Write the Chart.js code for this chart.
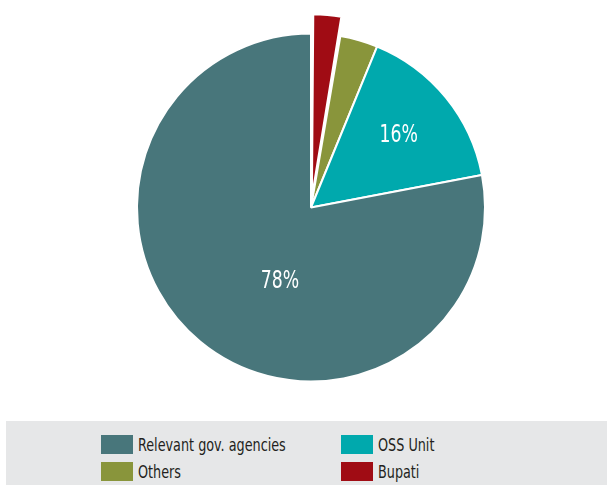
<!DOCTYPE html>
<html>
<head>
<meta charset="utf-8">
<script src="https://cdn.jsdelivr.net/npm/chart.js@4/dist/chart.umd.min.js"></script>
<style>
  html, body { margin: 0; padding: 0; background: #fff; }
  #wrap { position: relative; width: 607px; height: 485px; overflow: hidden; }
  #pie { position: absolute; left: 0; top: 0; }
  #legend {
    position: absolute; left: 6px; top: 421px; width: 601px; height: 64px;
    background: #e6e7e8;
    font-family: 'Liberation Sans Narrow', 'DejaVu Sans Condensed', sans-serif;
    font-size: 18px; color: #231f20;
  }
  .item { position: absolute; height: 19px; line-height: 19px; white-space: nowrap; }
  .item i { display: inline-block; width: 32px; height: 19px; vertical-align: top; margin-right: 5px; }
  .item span { display: inline-block; transform: scaleX(0.79); transform-origin: left center; }
</style>
</head>
<body>
<div id="wrap">
  <canvas id="pie" width="607" height="485"></canvas>
  <div id="legend"></div>
</div>
<script>
// ── Données (ordre de la légende) ─────────────────────────────────────────────
const LABELS = ['Relevant gov. agencies', 'OSS Unit', 'Others', 'Bupati'];
const VALUES = [78, 15.8, 3.5, 2.7];
const COLORS = ['#48767b', '#00a9ad', '#89953b', '#a00c14'];
const OFFSETS = [0, 0, 0, 42];          // Bupati détaché
// étiquettes % : [fraction de l'arc, fraction du rayon]
const PCT_POS = { 'Relevant gov. agencies': [0.44, 0.46], 'OSS Unit': [0.5, 0.65] };

// La tarte tourne dans le sens horaire depuis midi : on inverse l'ordre
const order = [3, 2, 1, 0];

const pctLabels = {
  id: 'pctLabels',
  afterDatasetsDraw(chart) {
    const ctx = chart.ctx;
    const meta = chart.getDatasetMeta(0);
    ctx.save();
    ctx.fillStyle = '#ffffff';
    ctx.font = "24px 'Liberation Sans Narrow', 'DejaVu Sans Condensed', sans-serif";
    ctx.textAlign = 'center';
    ctx.textBaseline = 'middle';
    meta.data.forEach((arc, i) => {
      const pos = PCT_POS[chart.data.labels[i]];
      if (!pos) return;
      const p = arc.getProps(['x', 'y', 'startAngle', 'endAngle', 'outerRadius'], true);
      const a = p.startAngle + (p.endAngle - p.startAngle) * pos[0];
      const r = p.outerRadius * pos[1];
      ctx.save();
      ctx.translate(p.x + r * Math.cos(a), p.y + r * Math.sin(a));
      ctx.scale(0.8, 1);
      ctx.fillText(Math.round(chart.data.datasets[0].data[i]) + '%', 0, 0);
      ctx.restore();
    });
    ctx.restore();
  }
};

new Chart(document.getElementById('pie'), {
  type: 'pie',
  data: {
    labels: order.map(i => LABELS[i]),
    datasets: [{
      data: order.map(i => VALUES[i]),
      backgroundColor: order.map(i => COLORS[i]),
      offset: order.map(i => OFFSETS[i]),
      borderColor: '#ffffff',
      borderWidth: 2,
      hoverOffset: 0,
    }],
  },
  options: {
    responsive: false,
    animation: false,
    radius: 174,
    layout: { padding: { left: 15, right: 0, top: 0, bottom: 70 } },
    plugins: { legend: { display: false }, tooltip: { enabled: false } },
  },
  plugins: [pctLabels],
});

// ── Légende sur deux colonnes ────────────────────────────────────────────────
const legend = document.getElementById('legend');
const colX = [95, 335], rowY = [14, 41];
LABELS.forEach((l, i) => {
  const el = document.createElement('div');
  el.className = 'item';
  el.style.left = colX[i % 2] + 'px';
  el.style.top = rowY[Math.floor(i / 2)] + 'px';
  el.innerHTML = `<i style="background:${COLORS[i]}"></i><span>${l}</span>`;
  legend.appendChild(el);
});
</script>
</body>
</html>
